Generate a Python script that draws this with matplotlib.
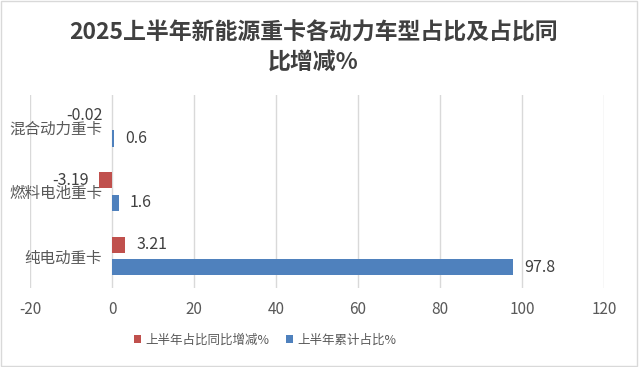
import matplotlib.pyplot as plt
from matplotlib.patches import Rectangle
import numpy as np

plt.rcParams['font.family'] = ['Noto Sans CJK SC', 'DejaVu Sans']
plt.rcParams['axes.unicode_minus'] = False

categories = ['混合动力重卡', '燃料电池重卡', '纯电动重卡']
change = [-0.02, -3.19, 3.21]      # 上半年占比同比增减%
share = [0.6, 1.6, 97.8]           # 上半年累计占比%
change_labels = ['-0.02', '-3.19', '3.21']
share_labels = ['0.6', '1.6', '97.8']

red = '#C0504D'
blue = '#4F81BD'

fig = plt.figure(figsize=(6.39, 3.67), dpi=100)
ax = fig.add_axes([0.047, 0.215, 0.898, 0.526])
ax.spines['left'].set_position(('data', 0))

y = np.array([2, 1, 0])
h = 0.25
b1 = ax.barh(y + 0.175, change, height=h, color=red, label='上半年占比同比增减%', zorder=3)
b2 = ax.barh(y - 0.175, share, height=h, color=blue, label='上半年累计占比%', zorder=3)

# data labels
for yy, v, t in zip(y, change, change_labels):
    if v < 0:
        ax.annotate(t, (v, yy + 0.175), xytext=(-7, 0), textcoords='offset points',
                    ha='right', va='center', fontsize=11.5, color='#404040')
    else:
        ax.annotate(t, (v, yy + 0.175), xytext=(8, 0), textcoords='offset points',
                    ha='left', va='center', fontsize=11.5, color='#404040')
for yy, v, t in zip(y, share, share_labels):
    ax.annotate(t, (v, yy - 0.175), xytext=(8, 0), textcoords='offset points',
                ha='left', va='center', fontsize=11.5, color='#404040')

ax.set_xlim(-20, 120)
ax.set_ylim(-0.5, 2.5)
ax.set_xticks(np.arange(-20, 121, 20))
ax.tick_params(axis='x', length=0, pad=9, labelsize=11, labelcolor='#595959')
ax.set_yticks(y)
ax.set_yticklabels(categories)
ax.tick_params(axis='y', length=0, pad=7, labelsize=11.2, labelcolor='#595959')
for s in ax.spines.values():
    s.set_visible(False)
ax.xaxis.grid(True, color='#D9D9D9', linewidth=1, zorder=0)
ax.set_axisbelow(True)

fig.text(0.49, 0.87, '2025上半年新能源重卡各动力车型占比及占比同\n比增减%',
         ha='center', va='center', fontsize=16.5, fontweight='bold',
         color='#404040', linespacing=1.3)

leg = fig.legend(handles=[b1, b2], loc='center', bbox_to_anchor=(0.415, 0.074),
                 ncol=2, frameon=False, fontsize=9, handlelength=0.55,
                 handleheight=0.55, handletextpad=0.3, columnspacing=1.4)
for t in leg.get_texts():
    t.set_color('#595959')

fig.patches.append(Rectangle((0.002, 0.003), 0.995, 0.993, transform=fig.transFigure,
                             fill=False, edgecolor='#D9D9D9', linewidth=1))

fig.savefig('out.png', dpi=100)
